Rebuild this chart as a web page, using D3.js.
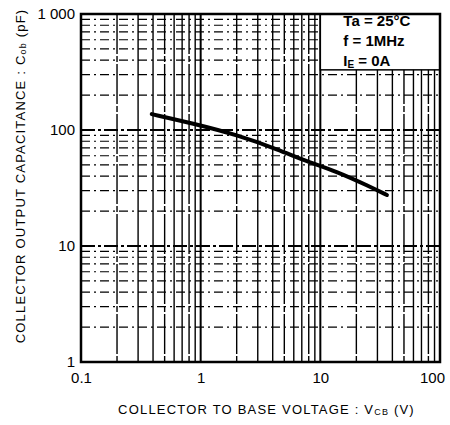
<!DOCTYPE html>
<html>
<head>
<meta charset="utf-8">
<script src="https://cdn.jsdelivr.net/npm/d3@7"></script>
<style>
  body { margin: 0; background: #fff; }
  svg { display: block; }
  text { font-family: "Liberation Sans Narrow", "Liberation Sans", Arial, sans-serif; fill: #000; }
</style>
</head>
<body>
<div class="chart"></div>
<script>
// values
const voltage = [0.39, 0.86, 2, 4.6, 7.2, 13.7, 26, 36];
const capacitance = [137, 114, 91, 67, 55, 44, 32.5, 27.5];
const xTicks = [0.1, 1, 10, 100];
const xTickLabels = ["0.1", "1", "10", "100"];
const yTicks = [1, 10, 100, 1000];
const yTickLabels = ["1", "10", "100", "1 000"];
const conditions = ["Ta = 25°C", "f = 1MHz", "I_E = 0A"];

const width = 450;
const height = 425;
const marginTop = 14;
const marginRight = 10;
const marginBottom = 63;
const marginLeft = 81;

const x = d3.scaleLog()
    .domain([0.1, 100])
    .range([marginLeft, width - marginRight]);

const y = d3.scaleLog()
    .domain([1, 1000])
    .range([height - marginBottom, marginTop]);

const svg = d3.select(".chart").append("svg")
    .attr("width", width)
    .attr("height", height);

// grid values: 1..9 in each decade
const minor = (lo, hi) => {
    const out = [];
    for (let d = lo; d < hi; d *= 10)
        for (let k = 1; k < 10; k++) out.push(+(k * d).toPrecision(3));
    out.push(hi);
    return out;
};

const grid = svg.append("g");

grid.selectAll(".vline")
    .data(minor(0.1, 100))
    .join("line")
    .attr("x1", d => x(d)).attr("x2", d => x(d))
    .attr("y1", y(1000)).attr("y2", y(1))
    .attr("stroke", "#000")
    .attr("stroke-width", d => xTicks.includes(d) ? 2 : 1.4)
    .attr("stroke-dasharray", (d, i) => i % 3 === 1 ? "40,2,6,2" : null);

grid.selectAll(".hline")
    .data(minor(1, 1000))
    .join("line")
    .attr("x1", x(0.1)).attr("x2", x(100))
    .attr("y1", d => y(d)).attr("y2", d => y(d))
    .attr("stroke", "#000")
    .attr("stroke-width", d => yTicks.includes(d) ? 1.8 : 1.2)
    .attr("stroke-dasharray", d => yTicks.includes(d) ? "14,3,3,3" : "9,4,2,4");

// conditions box
const boxX = x(10);
const boxY = y(1000);
svg.append("rect")
    .attr("x", boxX)
    .attr("y", boxY)
    .attr("width", x(100) - boxX)
    .attr("height", y(330) - boxY)
    .attr("fill", "#fff")
    .attr("stroke", "#000")
    .attr("stroke-width", 1.5);

const cond = svg.append("g")
    .attr("font-size", 15)
    .attr("font-weight", "bold");
conditions.forEach((c, i) => {
    const t = cond.append("text")
        .attr("x", boxX + 23)
        .attr("y", boxY + 12 + i * 20);
    if (c.startsWith("I_E")) {
        t.append("tspan").text("I");
        t.append("tspan").attr("font-size", 10).attr("dy", 2).text("E");
        t.append("tspan").attr("dy", -2).text(" = 0A");
    } else {
        t.text(c);
    }
});

// curve
svg.append("path")
    .datum(voltage.map((v, i) => [v, capacitance[i]]))
    .attr("fill", "none")
    .attr("stroke", "#000")
    .attr("stroke-width", 4)
    .attr("stroke-linecap", "round")
    .attr("d", d3.line()
        .x(d => x(d[0]))
        .y(d => y(d[1]))
        .curve(d3.curveBasis));

// frame
svg.append("rect")
    .attr("x", x(0.1))
    .attr("y", y(1000))
    .attr("width", x(100) - x(0.1))
    .attr("height", y(1) - y(1000))
    .attr("fill", "none")
    .attr("stroke", "#000")
    .attr("stroke-width", 2.5);

// axes
svg.append("g")
    .attr("transform", `translate(0,${height - marginBottom})`)
    .call(d3.axisBottom(x).tickValues(xTicks).tickSize(0).tickPadding(10)
        .tickFormat((d, i) => xTickLabels[i]))
    .call(g => g.select(".domain").remove())
    .call(g => g.selectAll("text")
        .attr("font-size", 15)
        .attr("font-family", null)
        .attr("dx", (d, i) => i === 3 ? -8 : 0));

svg.append("g")
    .attr("transform", `translate(${marginLeft},0)`)
    .call(d3.axisLeft(y).tickValues(yTicks).tickSize(0).tickPadding(6)
        .tickFormat((d, i) => yTickLabels[i]))
    .call(g => g.select(".domain").remove())
    .call(g => g.selectAll("text")
        .attr("font-size", 15)
        .attr("font-family", null));

// axis titles
const xTitle = svg.append("text")
    .attr("x", (x(0.1) + x(100)) / 2 + 6)
    .attr("y", 414)
    .attr("text-anchor", "middle")
    .attr("font-size", 13)
    .attr("letter-spacing", 1.2);
xTitle.append("tspan").text("COLLECTOR TO BASE VOLTAGE : V");
xTitle.append("tspan").attr("font-size", 9).attr("dy", 1).text("CB");
xTitle.append("tspan").attr("dy", -1).text(" (V)");

const yTitle = svg.append("text")
    .attr("transform", `translate(25,${(y(1) + y(1000)) / 2 - 12}) rotate(-90)`)
    .attr("text-anchor", "middle")
    .attr("font-size", 13)
    .attr("letter-spacing", 1.2);
yTitle.append("tspan").text("COLLECTOR OUTPUT CAPACITANCE : C");
yTitle.append("tspan").attr("font-size", 9).attr("dy", 1).text("ob");
yTitle.append("tspan").attr("dy", -1).text(" (pF)");
</script>
</body>
</html>
